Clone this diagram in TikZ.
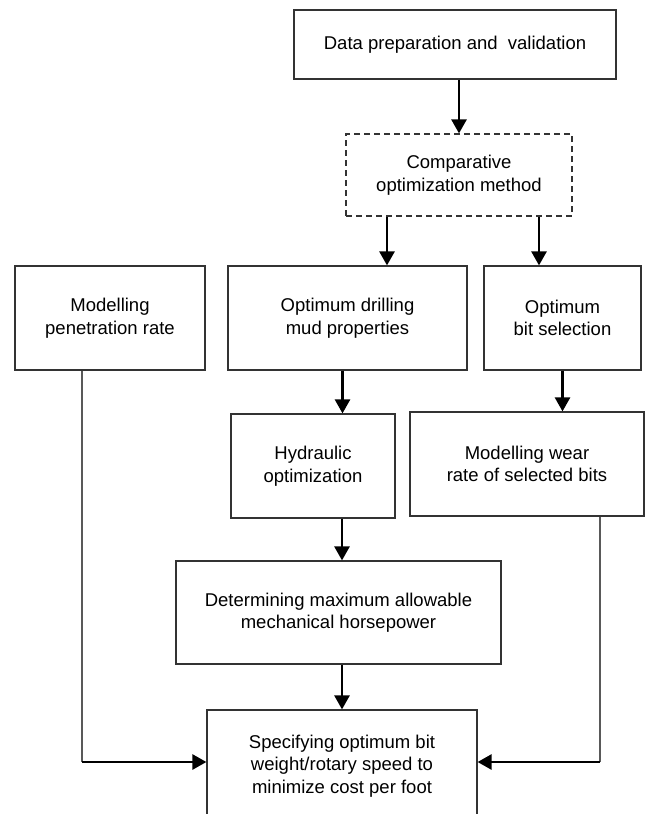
\documentclass[tikz,border=0pt]{standalone}
\usepackage{fontspec}
\setmainfont{Liberation Sans}
\usetikzlibrary{arrows.meta}
\definecolor{boxgrey}{rgb}{0.2, 0.2, 0.2}
\definecolor{linegrey}{rgb}{0.35, 0.35, 0.35}
\tikzset{stage/.style={draw=boxgrey, line width=1.2pt, align=center, inner sep=0pt, font=\fontsize{18.5}{22.5}\selectfont}}
\tikzset{dstage/.style={stage, dash pattern=on 6pt off 4pt}}
\tikzset{flow/.style={line width=2.6pt, -{Triangle[length=14pt, width=15pt]}}}
\tikzset{feed/.style={line width=1.2pt, color=linegrey}}

\begin{document}
\begin{tikzpicture}[x=1pt, y=-1pt]
        \useasboundingbox (0, 0) rectangle (646, 814);
        \clip (0, 0) rectangle (646, 814);

        \node[stage, minimum width=322, minimum height=69] (Data) at (455, 44.5)
        {Data preparation and~ validation};
        \node[dstage, minimum width=226, minimum height=82] (Comp) at (459, 175)
        {Comparative\\optimization method};

        \node[stage, minimum width=190, minimum height=104] (Pen) at (110, 318)
        {Modelling\\penetration rate};
        \node[stage, minimum width=239, minimum height=104] (Mud) at (347.5, 318)
        {Optimum drilling\\mud properties};
        \node[stage, minimum width=157, minimum height=104] (Bit) at (562.5, 318)
        {Optimum\\bit selection};

        \node[stage, minimum width=164, minimum height=104] (Hyd) at (313, 466)
        {Hydraulic\\optimization};
        \node[stage, minimum width=234, minimum height=104] (Wear) at (527, 464)
        {Modelling wear\\rate of selected bits};

        \node[stage, minimum width=325, minimum height=103] (Det) at (338.5, 612.5)
        {Determining maximum allowable\\mechanical horsepower};
        \node[stage, minimum width=270, minimum height=112] (Spec) at (342, 766)
        {Specifying optimum bit\\weight/rotary speed to\\minimize cost per foot};

        \coordinate (SpecIn) at ([yshift=4pt]Spec.center);
        \coordinate (Lc) at ([xshift=-28pt]Pen.south |- SpecIn);
        \coordinate (Rc) at ([xshift=73pt]Wear.south |- SpecIn);

        \draw [flow] (Data.south -| Comp) -- (Comp.north);
        \draw [flow] ([xshift=-72pt]Comp.south) -- ([xshift=-72pt]Comp.south |- Mud.north);
        \draw [flow] ([xshift=80pt]Comp.south) -- ([xshift=80pt]Comp.south |- Bit.north);
        \draw [flow] ([xshift=-5pt]Mud.south) -- ([xshift=-5pt]Mud.south |- Hyd.north);
        \draw [flow] (Bit.south) -- (Bit.south |- Wear.north);
        \draw [flow] (Hyd.south -| Spec) -- (Det.north -| Spec);
        \draw [flow] (Det.south -| Spec) -- (Spec.north);

        \draw [feed] ([xshift=-28pt]Pen.south) -- (Lc);
        \draw [flow] (Lc) -- (Lc -| Spec.west);
        \draw [feed] ([xshift=73pt]Wear.south) -- (Rc);
        \draw [flow] (Rc) -- (Rc -| Spec.east);
    \end{tikzpicture}
\end{document}
